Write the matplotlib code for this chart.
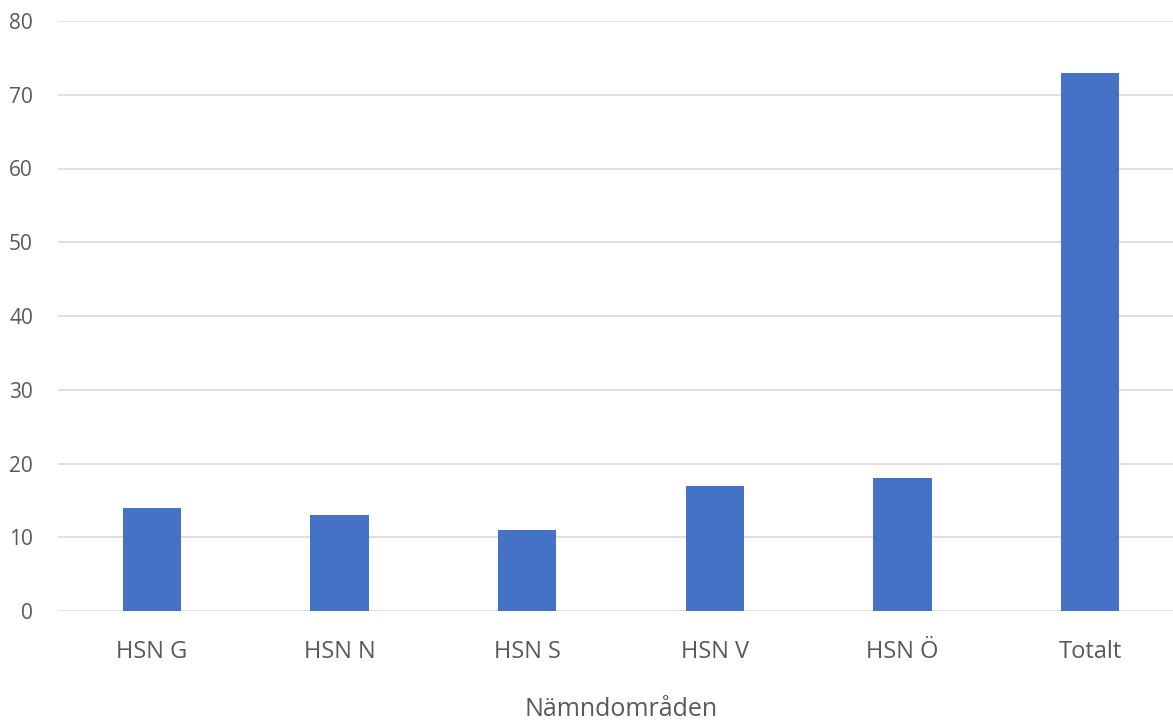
import matplotlib

matplotlib.use("Agg")
import matplotlib.pyplot as plt
import numpy as np

# Data
categories = ["HSN G", "HSN N", "HSN S", "HSN V", "HSN Ö", "Totalt"]
values = [14, 13, 11, 17, 18, 73]
y_ticks = [0, 10, 20, 30, 40, 50, 60, 70, 80]

BAR_COLOR = "#4472C4"
TEXT_COLOR = "#595959"
GRID_COLOR = "#D9D9D9"

plt.rcParams["font.family"] = ["Open Sans", "DejaVu Sans"]

fig = plt.figure(figsize=(11.73, 7.27), dpi=100)
# plot area extends slightly past the right edge, as in the reference
ax = fig.add_axes([58 / 1173, 116 / 727, 1126 / 1173, 590 / 727])

x_pos = np.arange(len(categories))
ax.bar(x_pos, values, width=0.31, color=BAR_COLOR, zorder=3)

ax.set_xlim(-0.5, len(categories) - 0.5)
ax.set_ylim(0, 80)
ax.set_yticks(y_ticks)
ax.set_xticks(x_pos)
ax.set_xticklabels(categories)

ax.yaxis.grid(True, color=GRID_COLOR, linewidth=1.2, zorder=0)
for side in ["top", "right", "left", "bottom"]:
    ax.spines[side].set_visible(False)

ax.tick_params(axis="both", length=0)
ax.tick_params(axis="y", labelsize=15, labelcolor=TEXT_COLOR, pad=18)
ax.tick_params(axis="x", labelsize=17, labelcolor=TEXT_COLOR, pad=21)

ax.set_xlabel("Nämndområden", fontsize=18, color=TEXT_COLOR, labelpad=24)

fig.savefig("out.png", dpi=100)
